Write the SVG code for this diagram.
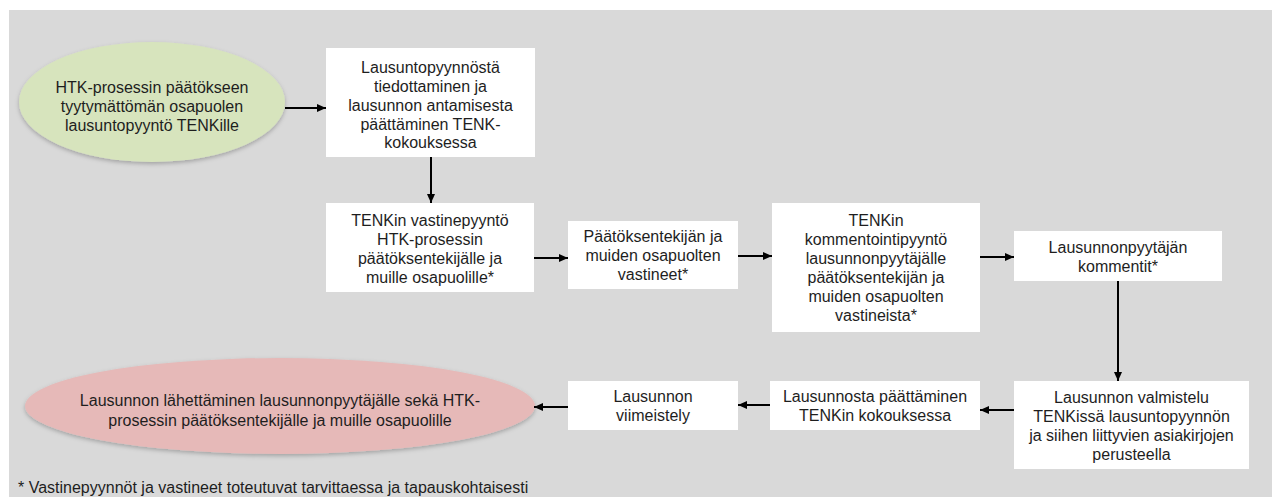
<svg xmlns="http://www.w3.org/2000/svg" width="1272" height="497" viewBox="0 0 1272 497">
<style>
.t{font-family:"Liberation Sans",Arial,sans-serif;font-size:16px;fill:#1e1e1e;text-anchor:middle}
.box{fill:#ffffff}
.c{stroke:#000;stroke-width:2;fill:none;marker-end:url(#ah)}
</style>
<defs>
<marker id="ah" markerUnits="userSpaceOnUse" markerWidth="9" markerHeight="8" refX="9" refY="4" orient="auto">
<path d="M0,0 L9,4 L0,8 z" fill="#000"/>
</marker>
<filter id="sh" x="-10%" y="-20%" width="120%" height="150%">
<feDropShadow dx="0" dy="2" stdDeviation="2" flood-color="#000" flood-opacity="0.25"/>
</filter>
</defs>
<rect x="0" y="0" width="1272" height="497" fill="#ffffff"/>
<rect x="9" y="10" width="1263" height="487" fill="#d9d9d9"/>

<g id="start">
<ellipse cx="152" cy="102" rx="133" ry="60" fill="#d7e4bd" filter="url(#sh)"/>
<text class="t" x="152" y="93">HTK-prosessin päätökseen</text>
<text class="t" x="152" y="112">tyytymättömän osapuolen</text>
<text class="t" x="152" y="131">lausuntopyyntö TENKille</text>
</g>

<g id="n1">
<rect class="box" x="326" y="48" width="209" height="109"/>
<text class="t" x="430.5" y="73">Lausuntopyynnöstä</text>
<text class="t" x="430.5" y="92">tiedottaminen ja</text>
<text class="t" x="430.5" y="111">lausunnon antamisesta</text>
<text class="t" x="430.5" y="130">päättäminen TENK-</text>
<text class="t" x="430.5" y="148">kokouksessa</text>
</g>

<g id="n2">
<rect class="box" x="326" y="203" width="208" height="89"/>
<text class="t" x="430" y="225.5">TENKin vastinepyyntö</text>
<text class="t" x="430" y="244.5">HTK-prosessin</text>
<text class="t" x="430" y="263.5">päätöksentekijälle ja</text>
<text class="t" x="430" y="282.5">muille osapuolille*</text>
</g>

<g id="n3">
<rect class="box" x="568" y="221" width="170" height="68"/>
<text class="t" x="653" y="242">Päätöksentekijän ja</text>
<text class="t" x="653" y="261">muiden osapuolten</text>
<text class="t" x="653" y="280">vastineet*</text>
</g>

<g id="n4">
<rect class="box" x="772" y="203" width="208" height="129"/>
<text class="t" x="876" y="225.5">TENKin</text>
<text class="t" x="876" y="244.5">kommentointipyyntö</text>
<text class="t" x="876" y="263.5">lausunnonpyytäjälle</text>
<text class="t" x="876" y="282.5">päätöksentekijän ja</text>
<text class="t" x="876" y="301.5">muiden osapuolten</text>
<text class="t" x="876" y="320.5">vastineista*</text>
</g>

<g id="n5">
<rect class="box" x="1014" y="231" width="208" height="50"/>
<text class="t" x="1118" y="252.5">Lausunnonpyytäjän</text>
<text class="t" x="1118" y="271.5">kommentit*</text>
</g>

<g id="n6">
<rect class="box" x="1014" y="381" width="235" height="88"/>
<text class="t" x="1131.5" y="402.5">Lausunnon valmistelu</text>
<text class="t" x="1131.5" y="421.5">TENKissä lausuntopyynnön</text>
<text class="t" x="1131.5" y="440.5">ja siihen liittyvien asiakirjojen</text>
<text class="t" x="1131.5" y="459.5">perusteella</text>
</g>

<g id="n7">
<rect class="box" x="770" y="381" width="210" height="49"/>
<text class="t" x="875" y="401.5">Lausunnosta päättäminen</text>
<text class="t" x="875" y="420.5">TENKin kokouksessa</text>
</g>

<g id="n8">
<rect class="box" x="568" y="381" width="170" height="49"/>
<text class="t" x="653" y="401.5">Lausunnon</text>
<text class="t" x="653" y="420.5">viimeistely</text>
</g>

<g id="end">
<ellipse cx="280" cy="406" rx="255" ry="48" fill="#e6b9b8" filter="url(#sh)"/>
<text class="t" x="280" y="406">Lausunnon lähettäminen lausunnonpyytäjälle sekä HTK-</text>
<text class="t" x="280" y="426">prosessin päätöksentekijälle ja muille osapuolille</text>
</g>

<g id="connectors">
<line class="c" x1="285" y1="108" x2="326" y2="108"/>
<line class="c" x1="431" y1="157" x2="431" y2="203"/>
<line class="c" x1="534" y1="258" x2="568" y2="258"/>
<line class="c" x1="738" y1="256" x2="772" y2="256"/>
<line class="c" x1="980" y1="257" x2="1014" y2="257"/>
<line class="c" x1="1118" y1="281" x2="1118" y2="381"/>
<line class="c" x1="1014" y1="410" x2="980" y2="410"/>
<line class="c" x1="770" y1="405" x2="738" y2="405"/>
<line class="c" x1="568" y1="407" x2="534" y2="407"/>
</g>

<text x="18" y="493" style="font-family:'Liberation Sans',Arial,sans-serif;font-size:16px;fill:#1e1e1e">* Vastinepyynnöt ja vastineet toteutuvat tarvittaessa ja tapauskohtaisesti</text>
</svg>
